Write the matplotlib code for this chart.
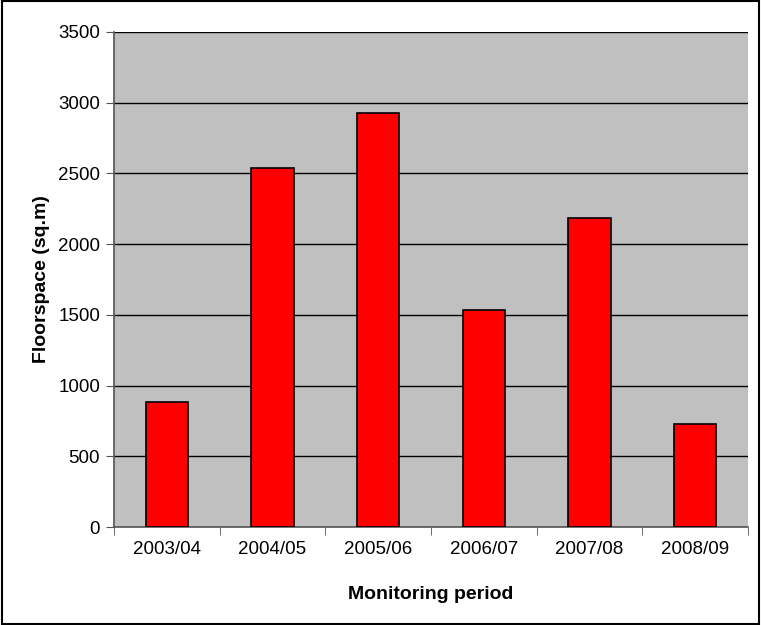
import matplotlib.pyplot as plt
from matplotlib.patches import Rectangle

plt.rcParams['font.family'] = ['Liberation Sans', 'DejaVu Sans']

periods = ['2003/04', '2004/05', '2005/06', '2006/07', '2007/08', '2008/09']
floorspace = [883, 2540, 2925, 1536, 2188, 726]

fig = plt.figure(figsize=(7.61, 6.25), dpi=100)
ax = fig.add_axes([114/761, 1-527/625, (748-114)/761, (527-32)/625])
ax.set_facecolor('#c0c0c0')

x = range(len(periods))
ax.bar(x, floorspace, width=0.4, color='#ff0000', edgecolor='black', linewidth=1.2, zorder=3)

ax.set_xlim(-0.5, len(periods)-0.5)
ax.set_ylim(0, 3500)
ax.set_yticks(range(0, 3501, 500))
ax.set_xticks(x)
ax.set_xticklabels(periods)
ax.set_xticks([i+0.5 for i in range(-1, len(periods))], minor=True)
ax.tick_params(axis='x', which='major', length=0, pad=10, labelsize=13.5)
ax.tick_params(axis='x', which='minor', length=6, color='#555555')
ax.tick_params(axis='y', length=6, color='#555555', labelsize=13.5, pad=4)

ax.yaxis.grid(True, color='black', linewidth=1)
ax.set_axisbelow(True)
for s in ['top', 'right']:
    ax.spines[s].set_visible(False)
for s in ['left', 'bottom']:
    ax.spines[s].set_color('#555555')
    ax.spines[s].set_linewidth(1.2)

ax.set_xlabel('Monitoring period', fontsize=14, fontweight='bold', labelpad=20)
ax.set_ylabel('Floorspace (sq.m)', fontsize=14, fontweight='bold', labelpad=6)

fig.patches.append(Rectangle((0.002, 0.002), 0.996, 0.996, transform=fig.transFigure,
                             fill=False, edgecolor='black', linewidth=1.5))

fig.savefig('out.png', dpi=100)
